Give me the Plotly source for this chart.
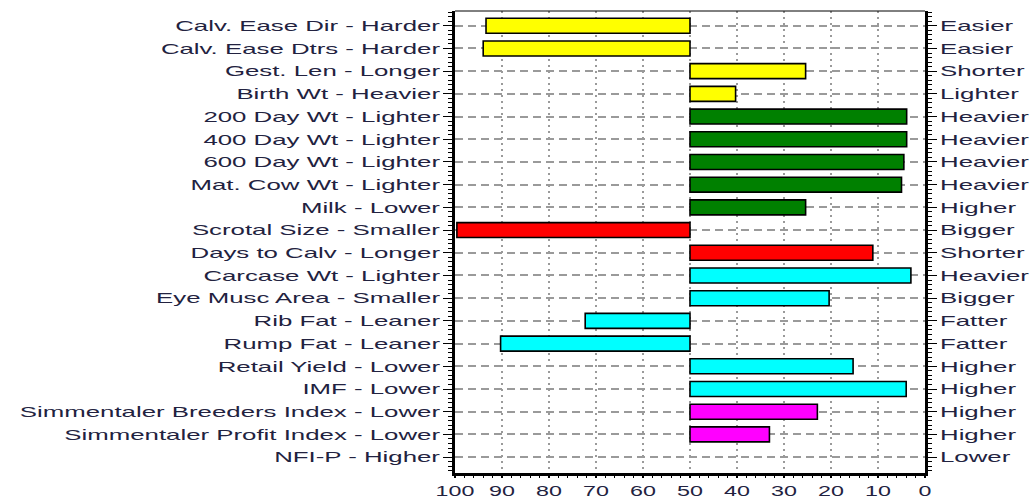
import plotly.graph_objects as go

# Trait names (left, low side) and the opposite direction (right, high side)
left_labels = [
    "Calv. Ease Dir - Harder",
    "Calv. Ease Dtrs - Harder",
    "Gest. Len - Longer",
    "Birth Wt - Heavier",
    "200 Day Wt - Lighter",
    "400 Day Wt - Lighter",
    "600 Day Wt - Lighter",
    "Mat. Cow Wt - Lighter",
    "Milk - Lower",
    "Scrotal Size - Smaller",
    "Days to Calv - Longer",
    "Carcase Wt - Lighter",
    "Eye Musc Area - Smaller",
    "Rib Fat - Leaner",
    "Rump Fat - Leaner",
    "Retail Yield - Lower",
    "IMF - Lower",
    "Simmentaler Breeders Index - Lower",
    "Simmentaler Profit Index - Lower",
    "NFI-P - Higher",
]
right_labels = [
    "Easier", "Easier", "Shorter", "Lighter", "Heavier", "Heavier", "Heavier",
    "Heavier", "Higher", "Bigger", "Shorter", "Heavier", "Bigger", "Fatter",
    "Fatter", "Higher", "Higher", "Higher", "Higher", "Lower",
]
# Percentile band for each trait (50 = breed average)
percentiles = [93.4, 94.0, 25.4, 40.3, 3.9, 3.9, 4.5, 5.0, 25.4, 99.6,
               11.1, 3.0, 20.4, 72.3, 90.3, 15.3, 4.0, 22.9, 33.1, 50.0]
group_colors = [
    "#FFFF00", "#FFFF00", "#FFFF00", "#FFFF00",
    "#008000", "#008000", "#008000", "#008000", "#008000",
    "#FF0000", "#FF0000",
    "#00FFFF", "#00FFFF", "#00FFFF", "#00FFFF", "#00FFFF", "#00FFFF",
    "#FF00FF", "#FF00FF", "#FF00FF",
]
x_ticks = [100, 90, 80, 70, 60, 50, 40, 30, 20, 10, 0]
MIDPOINT = 50

rows = list(range(len(left_labels)))
y_range = [len(rows) - 1 + 0.70, -0.65]
text_font = dict(family="Liberation Sans, Arial, sans-serif", size=15, color="#222240")
grid_col = "#9a9a9a"
# no outline for traits sitting exactly on the average (no bar to draw)
outline_widths = [0 if p == MIDPOINT else 1.6 for p in percentiles]

fig = go.Figure()
fig.add_trace(go.Bar(
    orientation="h",
    y=rows,
    x=[p - MIDPOINT for p in percentiles],
    base=MIDPOINT,
    width=0.66,
    marker=dict(color=group_colors, line=dict(color="#000000", width=outline_widths)),
    hoverinfo="skip",
    showlegend=False,
))
# invisible trace so the right-hand axis is drawn
fig.add_trace(go.Scatter(x=[MIDPOINT], y=[0], yaxis="y2", mode="markers",
                         marker=dict(opacity=0), hoverinfo="skip", showlegend=False))

fig.update_layout(
    template="none",
    width=1032, height=498,
    margin=dict(l=455, r=107, t=11, b=25),
    paper_bgcolor="white", plot_bgcolor="white",
    font=text_font,
    xaxis=dict(
        range=[100, 0], tickvals=x_ticks, ticktext=[str(v) for v in x_ticks],
        showline=True, linecolor="black", linewidth=3,
        ticks="outside", ticklen=2, tickwidth=1.5, tickcolor="black",
        minor=dict(dtick=2, ticks="outside", ticklen=2, tickcolor="black", tickwidth=1),
        showgrid=True, gridcolor=grid_col, gridwidth=1.5, griddash="2px,4px",
        zeroline=False, tickfont=text_font, fixedrange=True, automargin=False,
    ),
    yaxis=dict(
        range=y_range, tickmode="array", tickvals=rows, ticktext=left_labels,
        showline=True, linecolor="black", linewidth=3,
        ticks="outside", ticklen=9, tickwidth=1.2, tickcolor="black",
        minor=dict(dtick=0.2, tick0=0, ticks="outside", ticklen=4, tickcolor="black", tickwidth=1),
        showgrid=True, gridcolor=grid_col, gridwidth=1.5, griddash="8px,5px",
        zeroline=False, tickfont=text_font, fixedrange=True, automargin=False,
    ),
    yaxis2=dict(
        overlaying="y", side="right", anchor="x",
        range=y_range, tickmode="array", tickvals=rows, ticktext=right_labels,
        showline=True, linecolor="black", linewidth=3,
        ticks="outside", ticklen=9, tickwidth=1.2, tickcolor="black",
        minor=dict(dtick=0.2, tick0=0, ticks="outside", ticklen=4, tickcolor="black", tickwidth=1),
        showgrid=False, zeroline=False, tickfont=text_font, fixedrange=True, automargin=False,
    ),
    shapes=[dict(type="line", xref="paper", yref="paper", x0=0, x1=1, y0=1, y1=1,
                 line=dict(color="black", width=1))],
)

# widen the label glyphs horizontally (wide-set label lettering)
stretch_js = """
var gd = document.getElementById('{plot_id}');
function widen(sel, k) {
  gd.querySelectorAll(sel).forEach(function (t) {
    var w = t.getComputedTextLength();
    t.setAttribute('lengthAdjust', 'spacingAndGlyphs');
    t.setAttribute('textLength', (w * k).toFixed(1));
  });
}
widen('.ytick text', 1.72);
widen('.y2tick text', 1.72);
widen('.xtick text', 1.55);
"""

fig.write_html("out.html", post_script=stretch_js, config={"displayModeBar": False})
